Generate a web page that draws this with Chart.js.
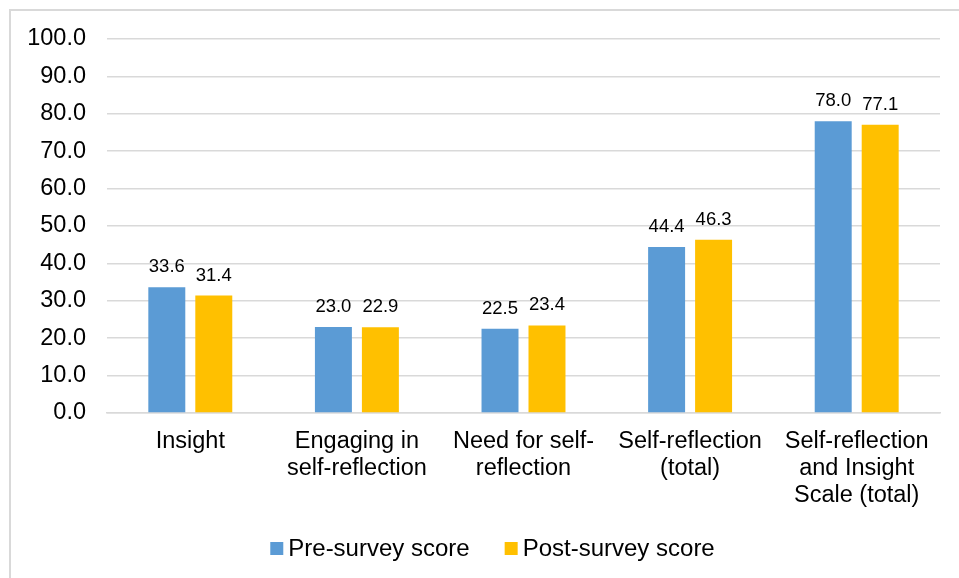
<!DOCTYPE html>
<html>
<head>
<meta charset="utf-8">
<style>
  html, body { margin: 0; padding: 0; background: #ffffff; }
  #wrap { position: relative; width: 959px; height: 578px; }
</style>
<script src="https://cdn.jsdelivr.net/npm/chart.js@4/dist/chart.umd.min.js"></script>
</head>
<body>
<div id="wrap"><canvas id="c" width="959" height="578"></canvas></div>
<script>
// Scale categories (multi-line labels)
const categories = [
  ['Insight'],
  ['Engaging in', 'self-reflection'],
  ['Need for self-', 'reflection'],
  ['Self-reflection', '(total)'],
  ['Self-reflection', 'and Insight', 'Scale (total)']
];
const preScores = [33.6, 23.0, 22.5, 44.4, 78.0];
const postScores = [31.4, 22.9, 23.4, 46.3, 77.1];
const seriesNames = ['Pre-survey score', 'Post-survey score'];
const yTicks = [0, 10, 20, 30, 40, 50, 60, 70, 80, 90, 100];

const FONT = '"Liberation Sans", Arial, sans-serif';

// Light grey frame around the whole figure
const framePlugin = {
  id: 'frame',
  beforeDraw(chart) {
    const ctx = chart.ctx;
    ctx.save();
    ctx.fillStyle = '#ffffff';
    ctx.fillRect(0, 0, chart.width, chart.height);
    ctx.strokeStyle = '#d9d9d9';
    ctx.lineWidth = 2;
    ctx.strokeRect(10, 10, chart.width + 50, chart.height + 50);
    ctx.restore();
  }
};

// Value labels above each bar
const valueLabels = {
  id: 'valueLabels',
  afterDatasetsDraw(chart) {
    const ctx = chart.ctx;
    ctx.save();
    ctx.font = '18.5px ' + FONT;
    ctx.fillStyle = '#000000';
    ctx.textAlign = 'center';
    ctx.textBaseline = 'alphabetic';
    chart.data.datasets.forEach((ds, di) => {
      chart.getDatasetMeta(di).data.forEach((bar, i) => {
        ctx.fillText(ds.data[i].toFixed(1), bar.x, bar.y - 15);
      });
    });
    ctx.restore();
  }
};

// Legend row under the axis
const bottomLegend = {
  id: 'bottomLegend',
  afterDraw(chart) {
    const ctx = chart.ctx;
    ctx.save();
    ctx.font = '24px ' + FONT;
    ctx.textBaseline = 'alphabetic';
    ctx.textAlign = 'left';
    const box = 13, gap = 5, spacing = 35;
    const items = chart.data.datasets.map(ds => ({
      label: ds.label, color: ds.backgroundColor, w: ctx.measureText(ds.label).width
    }));
    const total = items.reduce((s, it) => s + box + gap + it.w, 0) + spacing * (items.length - 1);
    let x = 492.5 - total / 2;
    const baseline = 556;
    items.forEach(it => {
      ctx.fillStyle = it.color;
      ctx.fillRect(x, 542, box, box);
      ctx.fillStyle = '#000000';
      ctx.fillText(it.label, x + box + gap, baseline);
      x += box + gap + it.w + spacing;
    });
    ctx.restore();
  }
};

new Chart(document.getElementById('c'), {
  type: 'bar',
  data: {
    labels: categories,
    datasets: [
      { label: seriesNames[0], data: preScores, backgroundColor: '#5B9BD5' },
      { label: seriesNames[1], data: postScores, backgroundColor: '#FFC000' }
    ]
  },
  options: {
    responsive: false,
    animation: false,
    devicePixelRatio: 1,
    layout: { padding: { left: 0, top: 39, right: 19, bottom: 0 } },
    datasets: { bar: { categoryPercentage: 0.564, barPercentage: 0.787 } },
    plugins: {
      legend: { display: false },
      tooltip: { enabled: false }
    },
    scales: {
      x: {
        grid: { display: false, drawTicks: false },
        border: { display: true, color: '#d9d9d9', width: 1.5 },
        ticks: {
          color: '#000000',
          padding: 15,
          maxRotation: 0,
          autoSkip: false,
          font: { family: FONT, size: 23.5, lineHeight: 1.15 }
        },
        afterFit(scale) { scale.height = 165; }
      },
      y: {
        min: 0,
        max: 100,
        afterBuildTicks(scale) { scale.ticks = yTicks.map(v => ({ value: v })); },
        grid: { color: '#d9d9d9', lineWidth: 1.5, drawTicks: false },
        border: { display: false },
        ticks: {
          color: '#000000',
          padding: 21,
          font: { family: FONT, size: 23.5 },
          callback: v => Number(v).toFixed(1)
        },
        afterFit(scale) { scale.width = 107; }
      }
    }
  },
  plugins: [framePlugin, valueLabels, bottomLegend]
});
</script>
</body>
</html>
